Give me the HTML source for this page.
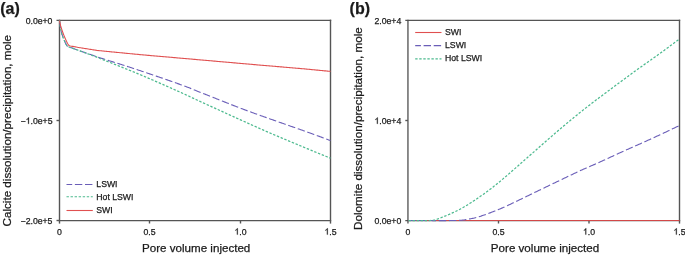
<!DOCTYPE html>
<html><head><meta charset="utf-8"><style>
html,body{margin:0;padding:0;background:#fff;}
body{width:685px;height:256px;overflow:hidden;}
#w{width:685px;height:256px;}
svg{display:block;will-change:transform;font-family:"Liberation Sans",sans-serif;fill:#1a1a1a;}
text{stroke:#1a1a1a;stroke-width:0.25px;}
</style></head><body>
<div id="w"><svg width="685" height="256" viewBox="0 0 685 256">
<line x1="56.5" y1="20.4" x2="331.2" y2="20.4" stroke="#555555" stroke-width="1.4"/>
<line x1="58.8" y1="220.65" x2="331.2" y2="220.65" stroke="#555555" stroke-width="1.4"/>
<line x1="59.5" y1="19.7" x2="59.5" y2="223.6" stroke="#555555" stroke-width="1.4"/>
<line x1="330.5" y1="19.7" x2="330.5" y2="223.6" stroke="#555555" stroke-width="1.4"/>
<line x1="56.5" y1="120.5" x2="59.5" y2="120.5" stroke="#555555" stroke-width="1.4"/>
<line x1="56.5" y1="220.5" x2="59.5" y2="220.5" stroke="#555555" stroke-width="1.4"/>
<line x1="149.5" y1="220.5" x2="149.5" y2="223.5" stroke="#555555" stroke-width="1.4"/>
<line x1="240.5" y1="220.5" x2="240.5" y2="223.5" stroke="#555555" stroke-width="1.4"/>
<line x1="405.3" y1="20.4" x2="680.2" y2="20.4" stroke="#555555" stroke-width="1.4"/>
<line x1="405.3" y1="220.65" x2="680.2" y2="220.65" stroke="#555555" stroke-width="1.4"/>
<line x1="407.95" y1="19.7" x2="407.95" y2="223.6" stroke="#4f4f4f" stroke-width="1.3"/>
<line x1="679.5" y1="19.7" x2="679.5" y2="223.6" stroke="#555555" stroke-width="1.4"/>
<line x1="405.3" y1="120.5" x2="407.95" y2="120.5" stroke="#555555" stroke-width="1.4"/>
<line x1="498.5" y1="220.5" x2="498.5" y2="223.5" stroke="#555555" stroke-width="1.4"/>
<line x1="589.0" y1="220.5" x2="589.0" y2="223.5" stroke="#555555" stroke-width="1.4"/>
<path d="M59.50,20.50 L59.63,21.58 L59.75,22.63 L59.87,23.69 L60.02,24.80 L60.20,26.00 L60.35,26.92 L60.52,27.89 L60.69,28.90 L60.89,29.92 L61.10,30.96 L61.34,31.99 L61.60,33.00 L61.90,34.02 L62.25,35.07 L62.62,36.13 L63.00,37.17 L63.38,38.18 L63.75,39.13 L64.10,40.00 L64.67,41.37 L65.22,42.58 L65.74,43.63 L66.20,44.50 L66.83,45.56 L67.50,46.20 L68.21,46.63 L70.00,47.30 L70.67,47.55 L71.42,47.83 L72.26,48.14 L73.17,48.47 L74.16,48.82 L75.21,49.20 L76.32,49.60 L77.50,50.02 L78.72,50.45 L80.00,50.90 L80.86,51.20 L81.79,51.52 L82.80,51.87 L83.86,52.24 L84.96,52.62 L86.09,53.00 L87.23,53.40 L88.38,53.79 L89.51,54.18 L90.62,54.55 L91.68,54.92 L92.70,55.27 L93.66,55.60 L94.53,55.90 L95.32,56.17 L96.00,56.40 L97.07,56.79 L96.69,56.71 L96.96,56.81 L100.00,57.80 L100.56,57.98 L101.16,58.17 L101.80,58.37 L102.47,58.59 L103.19,58.81 L103.93,59.05 L104.71,59.29 L105.52,59.55 L106.36,59.81 L107.23,60.09 L108.12,60.37 L109.04,60.66 L109.98,60.95 L110.95,61.25 L111.94,61.56 L112.94,61.88 L113.97,62.20 L115.01,62.53 L116.06,62.86 L117.13,63.20 L118.21,63.54 L119.30,63.89 L120.40,64.23 L121.51,64.59 L122.63,64.94 L123.75,65.30 L124.87,65.66 L125.99,66.02 L127.12,66.38 L128.24,66.74 L129.36,67.10 L130.48,67.46 L131.59,67.82 L132.69,68.18 L133.78,68.54 L134.87,68.89 L135.94,69.25 L137.00,69.60 L137.90,69.90 L138.81,70.20 L139.74,70.51 L140.68,70.83 L141.64,71.15 L142.61,71.48 L143.59,71.81 L144.58,72.14 L145.58,72.48 L146.59,72.82 L147.61,73.17 L148.64,73.51 L149.67,73.86 L150.70,74.22 L151.74,74.57 L152.78,74.93 L153.83,75.28 L154.87,75.64 L155.92,76.00 L156.96,76.36 L158.00,76.71 L159.04,77.07 L160.08,77.43 L161.11,77.78 L162.14,78.14 L163.16,78.49 L164.17,78.84 L165.17,79.19 L166.16,79.53 L167.15,79.87 L168.12,80.21 L169.08,80.55 L170.03,80.88 L170.96,81.20 L171.88,81.52 L172.78,81.84 L173.66,82.15 L174.53,82.46 L175.37,82.75 L176.20,83.05 L177.00,83.33 L177.79,83.61 L178.55,83.88 L179.29,84.14 L180.00,84.40 L181.43,84.91 L182.72,85.38 L183.89,85.81 L184.95,86.21 L185.92,86.57 L186.81,86.91 L187.63,87.22 L188.40,87.52 L189.13,87.81 L189.84,88.10 L190.54,88.38 L191.24,88.66 L191.95,88.96 L192.70,89.27 L193.50,89.59 L194.35,89.94 L195.28,90.32 L196.29,90.73 L197.41,91.17 L198.64,91.66 L200.00,92.20 L200.71,92.48 L201.45,92.77 L202.21,93.07 L202.99,93.38 L203.80,93.70 L204.63,94.03 L205.48,94.37 L206.35,94.72 L207.24,95.07 L208.14,95.43 L209.06,95.79 L209.99,96.17 L210.94,96.54 L211.90,96.93 L212.87,97.31 L213.85,97.71 L214.84,98.10 L215.84,98.50 L216.84,98.90 L217.85,99.30 L218.87,99.70 L219.88,100.11 L220.90,100.51 L221.92,100.92 L222.94,101.33 L223.96,101.73 L224.98,102.13 L225.99,102.53 L227.00,102.93 L228.01,103.33 L229.00,103.72 L229.99,104.11 L230.97,104.50 L231.94,104.88 L232.89,105.25 L233.84,105.62 L234.77,105.98 L235.68,106.34 L236.58,106.69 L237.47,107.03 L238.33,107.36 L239.18,107.68 L240.00,108.00 L241.11,108.42 L242.20,108.84 L243.26,109.23 L244.29,109.62 L245.30,110.00 L246.28,110.37 L247.25,110.73 L248.21,111.08 L249.14,111.43 L250.07,111.77 L250.98,112.10 L251.88,112.43 L252.78,112.75 L253.67,113.08 L254.56,113.40 L255.44,113.72 L256.33,114.03 L257.22,114.35 L258.12,114.67 L259.02,114.99 L259.93,115.32 L260.86,115.65 L261.79,115.98 L262.75,116.32 L263.72,116.66 L264.70,117.01 L265.71,117.37 L266.74,117.74 L267.80,118.12 L268.89,118.50 L270.00,118.90 L270.84,119.20 L271.71,119.51 L272.60,119.82 L273.50,120.14 L274.42,120.47 L275.36,120.80 L276.31,121.14 L277.28,121.48 L278.26,121.83 L279.25,122.18 L280.26,122.53 L281.27,122.88 L282.29,123.24 L283.31,123.60 L284.35,123.97 L285.38,124.33 L286.42,124.69 L287.47,125.06 L288.51,125.43 L289.55,125.79 L290.59,126.16 L291.63,126.52 L292.67,126.88 L293.70,127.24 L294.72,127.60 L295.74,127.96 L296.74,128.31 L297.74,128.66 L298.73,129.01 L299.70,129.35 L300.66,129.69 L301.61,130.02 L302.54,130.35 L303.45,130.67 L304.35,130.99 L305.22,131.30 L306.08,131.60 L306.91,131.90 L307.72,132.19 L308.51,132.47 L309.27,132.74 L310.00,133.00 L311.40,133.50 L312.71,133.98 L313.95,134.43 L315.12,134.85 L316.23,135.26 L317.28,135.65 L318.28,136.01 L319.23,136.37 L320.15,136.71 L321.04,137.04 L321.90,137.37 L322.74,137.68 L323.57,138.00 L324.39,138.31 L325.21,138.62 L326.04,138.93 L326.88,139.25 L327.74,139.57 L328.63,139.90 L329.54,140.25 L330.50,140.60" fill="none" stroke="#6a5eb8" stroke-width="1.1" stroke-dasharray="7.4 2.7"/>
<path d="M59.50,20.50 L59.63,21.58 L59.75,22.63 L59.87,23.69 L60.02,24.80 L60.20,26.00 L60.35,26.92 L60.52,27.89 L60.69,28.90 L60.89,29.92 L61.10,30.96 L61.34,31.99 L61.60,33.00 L61.90,34.02 L62.25,35.07 L62.62,36.13 L63.00,37.17 L63.38,38.18 L63.75,39.13 L64.10,40.00 L64.67,41.37 L65.22,42.58 L65.74,43.63 L66.20,44.50 L66.83,45.56 L67.50,46.20 L68.21,46.63 L70.00,47.30 L70.70,47.56 L71.52,47.86 L72.45,48.19 L73.46,48.56 L74.53,48.94 L75.64,49.33 L76.76,49.73 L77.88,50.13 L78.97,50.52 L80.00,50.90 L81.00,51.27 L82.00,51.63 L83.00,52.00 L84.00,52.36 L85.00,52.73 L86.00,53.10 L87.00,53.47 L88.00,53.85 L89.00,54.22 L90.00,54.60 L90.86,54.93 L91.52,55.17 L92.06,55.37 L92.56,55.56 L93.12,55.78 L93.84,56.05 L94.80,56.43 L96.08,56.94 L97.78,57.62 L100.00,58.50 L100.60,58.74 L101.23,58.99 L101.89,59.25 L102.57,59.53 L103.29,59.81 L104.03,60.10 L104.80,60.41 L105.59,60.72 L106.41,61.05 L107.25,61.38 L108.11,61.72 L108.99,62.07 L109.89,62.43 L110.80,62.79 L111.73,63.16 L112.68,63.53 L113.65,63.92 L114.62,64.31 L115.61,64.70 L116.61,65.10 L117.62,65.50 L118.63,65.90 L119.66,66.31 L120.69,66.72 L121.73,67.14 L122.77,67.56 L123.81,67.98 L124.86,68.40 L125.90,68.82 L126.95,69.24 L128.00,69.66 L129.04,70.09 L130.08,70.51 L131.11,70.93 L132.14,71.35 L133.16,71.76 L134.17,72.18 L135.17,72.59 L136.16,73.00 L137.14,73.41 L138.11,73.81 L139.06,74.21 L140.00,74.60 L140.94,74.99 L141.88,75.39 L142.84,75.80 L143.80,76.21 L144.77,76.62 L145.75,77.04 L146.73,77.46 L147.72,77.89 L148.72,78.31 L149.72,78.74 L150.72,79.18 L151.72,79.61 L152.73,80.05 L153.74,80.49 L154.75,80.93 L155.75,81.37 L156.76,81.80 L157.76,82.24 L158.76,82.68 L159.76,83.12 L160.76,83.56 L161.74,83.99 L162.73,84.43 L163.70,84.86 L164.67,85.28 L165.63,85.71 L166.58,86.13 L167.53,86.55 L168.46,86.96 L169.38,87.37 L170.29,87.77 L171.18,88.17 L172.07,88.56 L172.94,88.95 L173.79,89.33 L174.63,89.70 L175.45,90.07 L176.26,90.43 L177.04,90.78 L177.81,91.12 L178.56,91.46 L179.29,91.78 L180.00,92.10 L181.30,92.68 L182.49,93.22 L183.58,93.71 L184.58,94.17 L185.50,94.59 L186.36,94.99 L187.15,95.36 L187.90,95.71 L188.62,96.05 L189.32,96.38 L190.00,96.71 L190.68,97.03 L191.38,97.37 L192.10,97.71 L192.85,98.07 L193.64,98.44 L194.50,98.85 L195.42,99.28 L196.42,99.75 L197.51,100.25 L198.70,100.80 L200.00,101.40 L200.71,101.73 L201.45,102.06 L202.21,102.41 L202.99,102.77 L203.80,103.14 L204.63,103.52 L205.48,103.91 L206.35,104.31 L207.24,104.71 L208.14,105.12 L209.06,105.54 L209.99,105.97 L210.94,106.40 L211.90,106.84 L212.87,107.28 L213.85,107.73 L214.84,108.18 L215.84,108.63 L216.84,109.09 L217.85,109.55 L218.87,110.01 L219.88,110.48 L220.90,110.94 L221.92,111.40 L222.94,111.87 L223.96,112.33 L224.98,112.79 L225.99,113.25 L227.00,113.71 L228.01,114.17 L229.00,114.62 L229.99,115.07 L230.97,115.51 L231.94,115.95 L232.89,116.38 L233.84,116.81 L234.77,117.23 L235.68,117.65 L236.58,118.06 L237.47,118.45 L238.33,118.85 L239.18,119.23 L240.00,119.60 L241.08,120.09 L242.13,120.56 L243.16,121.03 L244.16,121.48 L245.14,121.93 L246.10,122.36 L247.04,122.79 L247.97,123.21 L248.88,123.62 L249.78,124.03 L250.66,124.43 L251.54,124.83 L252.41,125.22 L253.28,125.61 L254.14,126.00 L255.00,126.39 L255.86,126.77 L256.72,127.16 L257.59,127.55 L258.46,127.94 L259.34,128.33 L260.22,128.72 L261.12,129.12 L262.03,129.52 L262.96,129.93 L263.90,130.35 L264.86,130.77 L265.84,131.20 L266.84,131.63 L267.87,132.08 L268.92,132.53 L270.00,133.00 L270.82,133.36 L271.67,133.72 L272.53,134.09 L273.41,134.47 L274.31,134.85 L275.23,135.24 L276.16,135.63 L277.10,136.03 L278.06,136.44 L279.02,136.85 L280.00,137.26 L280.98,137.68 L281.98,138.10 L282.98,138.52 L283.99,138.94 L285.00,139.37 L286.01,139.79 L287.03,140.22 L288.05,140.65 L289.07,141.07 L290.09,141.50 L291.10,141.92 L292.11,142.35 L293.12,142.77 L294.13,143.19 L295.12,143.60 L296.11,144.02 L297.09,144.43 L298.06,144.83 L299.02,145.23 L299.97,145.63 L300.91,146.01 L301.83,146.40 L302.73,146.77 L303.62,147.14 L304.49,147.51 L305.34,147.86 L306.17,148.21 L306.99,148.55 L307.78,148.87 L308.54,149.19 L309.28,149.50 L310.00,149.80 L311.34,150.36 L312.60,150.88 L313.79,151.37 L314.91,151.84 L315.98,152.28 L317.00,152.70 L317.96,153.09 L318.89,153.47 L319.78,153.84 L320.64,154.19 L321.47,154.53 L322.28,154.86 L323.08,155.18 L323.87,155.50 L324.65,155.82 L325.44,156.14 L326.23,156.46 L327.04,156.79 L327.86,157.12 L328.71,157.47 L329.59,157.83 L330.50,158.20" fill="none" stroke="#4dba8f" stroke-width="1.25" stroke-dasharray="2.4 1.65"/>
<path d="M59.50,20.50 L59.72,21.58 L59.93,22.63 L60.14,23.69 L60.39,24.80 L60.70,26.00 L60.97,26.92 L61.26,27.89 L61.58,28.90 L61.91,29.92 L62.27,30.96 L62.63,31.99 L63.00,33.00 L63.39,34.03 L63.81,35.08 L64.25,36.15 L64.69,37.20 L65.12,38.21 L65.53,39.15 L65.90,40.00 L66.49,41.30 L67.03,42.41 L67.50,43.35 L67.90,44.10 L68.37,44.91 L68.80,45.30 L69.49,45.69 L70.50,46.00 L71.44,46.19 L72.58,46.37 L74.00,46.60 L74.74,46.74 L75.44,46.88 L76.22,47.03 L77.17,47.21 L78.39,47.43 L80.00,47.70 L80.75,47.82 L81.60,47.96 L82.55,48.11 L83.58,48.27 L84.66,48.44 L85.79,48.62 L86.95,48.80 L88.12,48.99 L89.29,49.17 L90.44,49.35 L91.55,49.52 L92.61,49.68 L93.60,49.84 L94.51,49.97 L95.31,50.10 L96.00,50.20 L97.00,50.39 L96.50,50.36 L96.75,50.38 L100.00,50.70 L100.57,50.76 L101.19,50.82 L101.84,50.88 L102.54,50.95 L103.28,51.03 L104.05,51.10 L104.86,51.19 L105.70,51.27 L106.57,51.36 L107.47,51.45 L108.40,51.54 L109.35,51.63 L110.33,51.73 L111.34,51.83 L112.36,51.93 L113.41,52.03 L114.47,52.14 L115.55,52.25 L116.64,52.35 L117.75,52.46 L118.87,52.57 L120.00,52.68 L121.13,52.79 L122.27,52.91 L123.42,53.02 L124.57,53.13 L125.72,53.24 L126.87,53.35 L128.01,53.46 L129.16,53.57 L130.29,53.68 L131.42,53.79 L132.55,53.90 L133.66,54.00 L134.75,54.11 L135.84,54.21 L136.91,54.31 L137.96,54.41 L138.99,54.51 L140.00,54.60 L141.00,54.69 L142.00,54.78 L143.00,54.88 L144.00,54.97 L145.00,55.06 L146.00,55.15 L147.00,55.24 L148.00,55.33 L149.00,55.41 L150.00,55.50 L151.00,55.59 L152.00,55.68 L153.00,55.77 L154.00,55.85 L155.00,55.94 L156.00,56.03 L157.00,56.12 L158.00,56.20 L159.00,56.29 L160.00,56.38 L161.00,56.46 L162.00,56.55 L163.00,56.63 L164.00,56.72 L165.00,56.81 L166.00,56.89 L167.00,56.98 L168.00,57.06 L169.00,57.15 L170.00,57.23 L171.00,57.32 L172.00,57.41 L173.00,57.49 L174.00,57.58 L175.00,57.67 L176.00,57.75 L177.00,57.84 L178.00,57.93 L179.00,58.01 L180.00,58.10 L181.00,58.19 L182.00,58.27 L183.00,58.36 L184.00,58.45 L185.00,58.54 L186.00,58.62 L187.00,58.71 L188.00,58.80 L189.00,58.89 L190.00,58.98 L191.00,59.06 L192.00,59.15 L193.00,59.24 L194.00,59.33 L195.00,59.41 L196.00,59.50 L197.00,59.59 L198.00,59.68 L199.00,59.76 L200.00,59.85 L201.00,59.94 L202.00,60.02 L203.00,60.11 L204.00,60.20 L205.00,60.29 L206.00,60.38 L207.00,60.46 L208.00,60.55 L209.00,60.64 L210.00,60.73 L211.00,60.81 L212.00,60.90 L213.00,60.99 L214.00,61.08 L215.00,61.16 L216.00,61.25 L217.00,61.34 L218.00,61.43 L219.00,61.51 L220.00,61.60 L221.00,61.69 L222.00,61.78 L223.00,61.86 L224.00,61.95 L225.00,62.04 L226.00,62.13 L227.00,62.21 L228.00,62.30 L229.00,62.39 L230.00,62.48 L231.00,62.57 L232.00,62.65 L233.00,62.74 L234.00,62.83 L235.00,62.92 L236.00,63.00 L237.00,63.09 L238.00,63.18 L239.00,63.27 L240.00,63.36 L241.00,63.44 L242.00,63.53 L243.00,63.62 L244.00,63.71 L245.00,63.79 L246.00,63.88 L247.00,63.97 L248.00,64.06 L249.00,64.14 L250.00,64.23 L251.00,64.32 L252.00,64.41 L253.00,64.49 L254.00,64.58 L255.00,64.67 L256.00,64.75 L257.00,64.84 L258.00,64.93 L259.00,65.01 L260.00,65.10 L261.00,65.19 L262.01,65.27 L263.02,65.36 L264.04,65.45 L265.06,65.53 L266.09,65.62 L267.12,65.71 L268.15,65.79 L269.19,65.88 L270.22,65.97 L271.26,66.06 L272.30,66.14 L273.34,66.23 L274.38,66.32 L275.42,66.40 L276.46,66.49 L277.49,66.58 L278.53,66.66 L279.56,66.75 L280.59,66.84 L281.62,66.92 L282.65,67.01 L283.67,67.10 L284.68,67.18 L285.70,67.27 L286.70,67.35 L287.70,67.44 L288.70,67.52 L289.69,67.60 L290.67,67.69 L291.64,67.77 L292.61,67.85 L293.57,67.94 L294.51,68.02 L295.45,68.10 L296.38,68.18 L297.30,68.26 L298.21,68.34 L299.11,68.42 L300.00,68.50 L301.16,68.60 L302.31,68.71 L303.43,68.81 L304.54,68.91 L305.63,69.01 L306.71,69.11 L307.77,69.21 L308.81,69.31 L309.85,69.41 L310.87,69.50 L311.88,69.60 L312.88,69.70 L313.88,69.79 L314.86,69.89 L315.84,69.98 L316.82,70.08 L317.79,70.17 L318.76,70.26 L319.72,70.36 L320.69,70.45 L321.65,70.55 L322.61,70.64 L323.58,70.73 L324.55,70.83 L325.53,70.92 L326.51,71.02 L327.49,71.11 L328.49,71.21 L329.49,71.30 L330.50,71.40" fill="none" stroke="#e05050" stroke-width="1.1"/>
<line x1="408.2" y1="220.45" x2="679.5" y2="220.45" stroke="#d24848" stroke-width="1.1"/>
<path d="M408.50,220.50 L409.52,220.50 L410.55,220.50 L411.60,220.50 L412.66,220.50 L413.73,220.51 L414.81,220.51 L415.90,220.51 L417.01,220.52 L418.11,220.52 L419.23,220.52 L420.35,220.53 L421.47,220.53 L422.60,220.54 L423.73,220.54 L424.86,220.55 L426.00,220.55 L427.13,220.56 L428.26,220.56 L429.38,220.57 L430.51,220.57 L431.63,220.57 L432.74,220.58 L433.84,220.58 L434.94,220.58 L436.03,220.59 L437.11,220.59 L438.18,220.59 L439.23,220.59 L440.28,220.60 L441.30,220.60 L442.32,220.60 L443.31,220.60 L444.29,220.59 L445.26,220.59 L446.20,220.59 L447.12,220.59 L448.02,220.58 L448.90,220.58 L449.76,220.57 L450.59,220.56 L451.39,220.56 L452.17,220.55 L452.92,220.54 L453.64,220.53 L454.34,220.51 L455.00,220.50 L457.10,220.45 L458.86,220.39 L460.31,220.32 L461.50,220.25 L462.49,220.16 L463.30,220.07 L463.99,219.97 L464.60,219.87 L465.17,219.75 L465.75,219.63 L466.39,219.50 L467.12,219.35 L468.00,219.20 L469.01,219.03 L469.97,218.87 L470.88,218.72 L471.78,218.55 L472.67,218.38 L473.56,218.19 L474.48,217.98 L475.44,217.74 L476.46,217.47 L477.55,217.16 L478.72,216.80 L480.00,216.40 L480.78,216.15 L481.59,215.88 L482.44,215.59 L483.31,215.29 L484.21,214.98 L485.13,214.65 L486.07,214.31 L487.04,213.97 L488.01,213.61 L489.00,213.24 L490.00,212.87 L491.01,212.49 L492.02,212.10 L493.04,211.71 L494.05,211.31 L495.07,210.91 L496.07,210.51 L497.07,210.11 L498.06,209.70 L499.04,209.30 L500.00,208.90 L500.91,208.51 L501.82,208.12 L502.73,207.73 L503.64,207.32 L504.55,206.92 L505.45,206.50 L506.36,206.09 L507.27,205.67 L508.18,205.24 L509.09,204.82 L510.00,204.39 L510.91,203.96 L511.82,203.52 L512.73,203.09 L513.64,202.65 L514.55,202.21 L515.45,201.78 L516.36,201.34 L517.27,200.90 L518.18,200.47 L519.09,200.03 L520.00,199.60 L520.91,199.17 L521.82,198.73 L522.73,198.30 L523.64,197.86 L524.55,197.42 L525.45,196.98 L526.36,196.54 L527.27,196.10 L528.18,195.66 L529.09,195.21 L530.00,194.77 L530.91,194.32 L531.82,193.88 L532.73,193.44 L533.64,192.99 L534.55,192.55 L535.45,192.11 L536.36,191.66 L537.27,191.22 L538.18,190.78 L539.09,190.34 L540.00,189.90 L540.91,189.46 L541.82,189.02 L542.73,188.59 L543.64,188.15 L544.55,187.71 L545.45,187.27 L546.36,186.83 L547.27,186.40 L548.18,185.96 L549.09,185.52 L550.00,185.09 L550.91,184.65 L551.82,184.22 L552.73,183.78 L553.64,183.34 L554.55,182.91 L555.45,182.47 L556.36,182.04 L557.27,181.60 L558.18,181.17 L559.09,180.73 L560.00,180.30 L560.91,179.87 L561.82,179.43 L562.73,178.99 L563.64,178.56 L564.55,178.12 L565.45,177.68 L566.36,177.25 L567.27,176.81 L568.18,176.37 L569.09,175.94 L570.00,175.50 L570.91,175.07 L571.82,174.63 L572.73,174.20 L573.64,173.77 L574.55,173.34 L575.45,172.91 L576.36,172.48 L577.27,172.06 L578.18,171.64 L579.09,171.22 L580.00,170.80 L580.95,170.37 L581.89,169.94 L582.83,169.52 L583.77,169.11 L584.70,168.70 L585.63,168.29 L586.56,167.88 L587.48,167.48 L588.41,167.07 L589.35,166.67 L590.28,166.27 L591.22,165.86 L592.16,165.45 L593.11,165.04 L594.07,164.63 L595.03,164.20 L596.00,163.78 L596.99,163.35 L597.98,162.91 L598.98,162.46 L600.00,162.00 L600.87,161.61 L601.76,161.20 L602.66,160.79 L603.58,160.37 L604.50,159.95 L605.44,159.51 L606.39,159.08 L607.35,158.63 L608.31,158.19 L609.27,157.74 L610.24,157.29 L611.20,156.84 L612.17,156.39 L613.13,155.95 L614.09,155.50 L615.04,155.06 L615.98,154.63 L616.91,154.19 L617.83,153.77 L618.74,153.35 L619.63,152.94 L620.50,152.54 L621.35,152.15 L622.19,151.77 L623.00,151.40 L624.09,150.91 L625.14,150.44 L626.15,149.99 L627.12,149.56 L628.07,149.14 L629.00,148.73 L629.91,148.33 L630.80,147.94 L631.69,147.56 L632.57,147.17 L633.45,146.79 L634.33,146.40 L635.23,146.01 L636.14,145.61 L637.06,145.21 L638.01,144.79 L638.99,144.35 L640.00,143.90 L640.89,143.50 L641.79,143.10 L642.70,142.69 L643.63,142.27 L644.57,141.85 L645.51,141.42 L646.46,140.99 L647.42,140.56 L648.39,140.12 L649.36,139.68 L650.33,139.24 L651.31,138.80 L652.28,138.35 L653.26,137.91 L654.23,137.46 L655.21,137.02 L656.18,136.57 L657.14,136.12 L658.10,135.68 L659.06,135.24 L660.00,134.80 L660.94,134.36 L661.88,133.92 L662.81,133.48 L663.75,133.04 L664.68,132.60 L665.61,132.16 L666.54,131.71 L667.47,131.27 L668.39,130.83 L669.32,130.38 L670.24,129.94 L671.17,129.50 L672.09,129.05 L673.02,128.61 L673.94,128.16 L674.87,127.72 L675.79,127.27 L676.72,126.83 L677.64,126.39 L678.57,125.94 L679.50,125.50" fill="none" stroke="#6a5eb8" stroke-width="1.1" stroke-dasharray="7.4 2.7"/>
<path d="M408.50,220.50 L409.54,220.50 L410.59,220.51 L411.67,220.52 L412.76,220.54 L413.87,220.55 L414.98,220.57 L416.09,220.59 L417.21,220.61 L418.32,220.63 L419.42,220.64 L420.51,220.66 L421.59,220.67 L422.65,220.68 L423.69,220.68 L424.70,220.67 L425.68,220.67 L426.62,220.65 L427.53,220.63 L428.40,220.59 L429.22,220.55 L430.00,220.50 L431.42,220.39 L432.58,220.28 L433.53,220.16 L434.35,220.02 L435.09,219.86 L435.83,219.64 L436.63,219.37 L437.54,219.03 L438.65,218.61 L440.00,218.10 L440.74,217.82 L441.51,217.52 L442.33,217.20 L443.19,216.86 L444.07,216.51 L444.99,216.14 L445.93,215.75 L446.89,215.35 L447.87,214.93 L448.87,214.51 L449.88,214.07 L450.90,213.61 L451.93,213.15 L452.96,212.68 L453.99,212.20 L455.02,211.72 L456.04,211.22 L457.06,210.72 L458.05,210.22 L459.04,209.71 L460.00,209.20 L460.87,208.73 L461.74,208.25 L462.61,207.76 L463.48,207.26 L464.35,206.76 L465.22,206.24 L466.09,205.72 L466.96,205.19 L467.83,204.66 L468.70,204.12 L469.57,203.57 L470.43,203.02 L471.30,202.46 L472.17,201.89 L473.04,201.32 L473.91,200.75 L474.78,200.17 L475.65,199.58 L476.52,198.99 L477.39,198.40 L478.26,197.80 L479.13,197.20 L480.00,196.60 L480.79,196.05 L481.57,195.50 L482.34,194.97 L483.09,194.43 L483.84,193.90 L484.58,193.37 L485.32,192.84 L486.05,192.31 L486.79,191.77 L487.52,191.23 L488.26,190.68 L489.00,190.13 L489.75,189.56 L490.51,188.98 L491.28,188.39 L492.06,187.78 L492.86,187.16 L493.67,186.52 L494.51,185.86 L495.36,185.18 L496.24,184.48 L497.14,183.75 L498.06,182.99 L499.02,182.21 L500.00,181.40 L500.65,180.86 L501.32,180.30 L502.01,179.73 L502.71,179.13 L503.43,178.52 L504.16,177.90 L504.91,177.26 L505.67,176.61 L506.45,175.95 L507.23,175.27 L508.02,174.59 L508.82,173.89 L509.63,173.19 L510.44,172.48 L511.27,171.77 L512.09,171.05 L512.92,170.32 L513.75,169.60 L514.58,168.87 L515.42,168.13 L516.25,167.40 L517.08,166.67 L517.91,165.94 L518.73,165.22 L519.56,164.49 L520.37,163.77 L521.18,163.06 L521.98,162.35 L522.77,161.66 L523.55,160.97 L524.33,160.29 L525.09,159.62 L525.84,158.96 L526.57,158.31 L527.29,157.68 L527.99,157.06 L528.68,156.46 L529.35,155.87 L530.00,155.30 L530.95,154.47 L531.87,153.67 L532.76,152.88 L533.63,152.12 L534.47,151.37 L535.30,150.65 L536.10,149.93 L536.89,149.24 L537.66,148.56 L538.42,147.88 L539.17,147.22 L539.90,146.57 L540.62,145.93 L541.34,145.30 L542.05,144.67 L542.76,144.04 L543.47,143.41 L544.17,142.79 L544.88,142.17 L545.59,141.55 L546.30,140.92 L547.02,140.29 L547.75,139.65 L548.49,139.01 L549.24,138.36 L550.00,137.70 L550.77,137.03 L551.54,136.37 L552.31,135.71 L553.08,135.04 L553.85,134.38 L554.62,133.72 L555.38,133.05 L556.15,132.39 L556.92,131.73 L557.69,131.07 L558.46,130.41 L559.23,129.76 L560.00,129.10 L560.77,128.44 L561.54,127.79 L562.31,127.14 L563.08,126.49 L563.85,125.84 L564.62,125.19 L565.38,124.54 L566.15,123.90 L566.92,123.25 L567.69,122.61 L568.46,121.97 L569.23,121.34 L570.00,120.70 L570.79,120.05 L571.57,119.41 L572.34,118.77 L573.09,118.15 L573.84,117.54 L574.58,116.93 L575.32,116.33 L576.05,115.73 L576.79,115.14 L577.52,114.54 L578.26,113.94 L579.00,113.34 L579.75,112.74 L580.51,112.13 L581.28,111.52 L582.06,110.90 L582.86,110.27 L583.67,109.62 L584.51,108.97 L585.36,108.30 L586.24,107.62 L587.14,106.92 L588.06,106.20 L589.02,105.46 L590.00,104.70 L590.69,104.17 L591.39,103.63 L592.12,103.07 L592.87,102.51 L593.63,101.93 L594.41,101.33 L595.20,100.73 L596.01,100.12 L596.82,99.50 L597.66,98.88 L598.50,98.24 L599.34,97.60 L600.20,96.96 L601.07,96.31 L601.93,95.66 L602.81,95.00 L603.68,94.35 L604.56,93.69 L605.44,93.03 L606.32,92.38 L607.19,91.72 L608.07,91.07 L608.93,90.43 L609.80,89.78 L610.66,89.14 L611.50,88.51 L612.34,87.89 L613.18,87.27 L613.99,86.66 L614.80,86.06 L615.59,85.47 L616.37,84.89 L617.13,84.33 L617.88,83.77 L618.61,83.23 L619.31,82.71 L620.00,82.20 L621.02,81.44 L622.02,80.71 L622.98,79.99 L623.91,79.30 L624.82,78.64 L625.70,77.99 L626.57,77.35 L627.41,76.73 L628.23,76.13 L629.04,75.54 L629.84,74.95 L630.62,74.38 L631.40,73.82 L632.17,73.25 L632.94,72.70 L633.70,72.14 L634.47,71.59 L635.23,71.04 L636.01,70.48 L636.78,69.92 L637.57,69.35 L638.37,68.78 L639.17,68.19 L640.00,67.60 L640.83,67.00 L641.67,66.40 L642.50,65.81 L643.34,65.21 L644.18,64.62 L645.01,64.03 L645.85,63.44 L646.69,62.84 L647.52,62.25 L648.36,61.67 L649.20,61.08 L650.03,60.49 L650.87,59.90 L651.70,59.31 L652.54,58.72 L653.37,58.13 L654.20,57.54 L655.04,56.95 L655.87,56.36 L656.70,55.77 L657.52,55.18 L658.35,54.59 L659.18,54.00 L660.00,53.40 L660.82,52.80 L661.64,52.21 L662.46,51.61 L663.28,51.01 L664.10,50.41 L664.91,49.81 L665.72,49.21 L666.54,48.61 L667.35,48.01 L668.16,47.41 L668.97,46.81 L669.78,46.21 L670.59,45.61 L671.40,45.01 L672.21,44.41 L673.02,43.81 L673.83,43.21 L674.64,42.60 L675.45,42.00 L676.26,41.40 L677.07,40.80 L677.88,40.20 L678.69,39.60 L679.50,39.00" fill="none" stroke="#4dba8f" stroke-width="1.25" stroke-dasharray="2.4 1.65"/>
<line x1="66.5" y1="184.5" x2="92.8" y2="184.5" stroke="#6a5eb8" stroke-width="1.1" stroke-dasharray="7.4 2.7" stroke-dashoffset="1.7"/>
<text x="96.3" y="187.3" font-size="8.7">LSWI</text>
<line x1="66.5" y1="196.7" x2="92.8" y2="196.7" stroke="#4dba8f" stroke-width="1.15" stroke-dasharray="2.4 1.65"/>
<text x="96.3" y="200.3" font-size="8.7">Hot LSWI</text>
<line x1="66.5" y1="210.5" x2="92.8" y2="210.5" stroke="#e05050" stroke-width="1.1"/>
<text x="96.3" y="213.3" font-size="8.7">SWI</text>
<line x1="415.2" y1="32.5" x2="441.5" y2="32.5" stroke="#e05050" stroke-width="1.1"/>
<text x="445.0" y="35.3" font-size="8.7">SWI</text>
<line x1="415.2" y1="45.6" x2="441.5" y2="45.6" stroke="#6a5eb8" stroke-width="1.1" stroke-dasharray="7.4 2.7" stroke-dashoffset="1.7"/>
<text x="445.0" y="48.3" font-size="8.7">LSWI</text>
<line x1="415.2" y1="58.8" x2="441.5" y2="58.8" stroke="#4dba8f" stroke-width="1.15" stroke-dasharray="2.4 1.65"/>
<text x="445.0" y="61.3" font-size="8.7">Hot LSWI</text>
<text x="25.65" y="23.80" font-size="8.7">0.0e+0</text>
<text x="20.57" y="123.80" font-size="8.7">&#8722;</text>
<path transform="translate(25.65,123.80) scale(0.004248,-0.004248)" d="M763 0H583V1147Q518 1085 412.5 1023T223 930V1104Q374 1175 487 1276T647 1472H763V0Z" fill="#1a1a1a" stroke="#1a1a1a" stroke-width="0.25" vector-effect="non-scaling-stroke"/>
<text x="30.49" y="123.80" font-size="8.7">.0e+5</text>
<text x="20.57" y="223.80" font-size="8.7">&#8722;2.0e+5</text>
<text x="374.45" y="23.80" font-size="8.7">2.0e+4</text>
<path transform="translate(374.45,123.80) scale(0.004248,-0.004248)" d="M763 0H583V1147Q518 1085 412.5 1023T223 930V1104Q374 1175 487 1276T647 1472H763V0Z" fill="#1a1a1a" stroke="#1a1a1a" stroke-width="0.25" vector-effect="non-scaling-stroke"/>
<text x="379.29" y="123.80" font-size="8.7">.0e+4</text>
<text x="374.45" y="223.80" font-size="8.7">0.0e+0</text>
<text x="57.08" y="234.60" font-size="8.7">0</text>
<text x="405.53" y="234.60" font-size="8.7">0</text>
<text x="143.45" y="234.60" font-size="8.7">0.5</text>
<text x="492.45" y="234.60" font-size="8.7">0.5</text>
<path transform="translate(234.45,234.60) scale(0.004248,-0.004248)" d="M763 0H583V1147Q518 1085 412.5 1023T223 930V1104Q374 1175 487 1276T647 1472H763V0Z" fill="#1a1a1a" stroke="#1a1a1a" stroke-width="0.25" vector-effect="non-scaling-stroke"/>
<text x="239.29" y="234.60" font-size="8.7">.0</text>
<path transform="translate(582.95,234.60) scale(0.004248,-0.004248)" d="M763 0H583V1147Q518 1085 412.5 1023T223 930V1104Q374 1175 487 1276T647 1472H763V0Z" fill="#1a1a1a" stroke="#1a1a1a" stroke-width="0.25" vector-effect="non-scaling-stroke"/>
<text x="587.79" y="234.60" font-size="8.7">.0</text>
<path transform="translate(324.45,234.60) scale(0.004248,-0.004248)" d="M763 0H583V1147Q518 1085 412.5 1023T223 930V1104Q374 1175 487 1276T647 1472H763V0Z" fill="#1a1a1a" stroke="#1a1a1a" stroke-width="0.25" vector-effect="non-scaling-stroke"/>
<text x="329.29" y="234.60" font-size="8.7">.5</text>
<path transform="translate(673.45,234.60) scale(0.004248,-0.004248)" d="M763 0H583V1147Q518 1085 412.5 1023T223 930V1104Q374 1175 487 1276T647 1472H763V0Z" fill="#1a1a1a" stroke="#1a1a1a" stroke-width="0.25" vector-effect="non-scaling-stroke"/>
<text x="678.29" y="234.60" font-size="8.7">.5</text>
<text x="196.2" y="251.7" font-size="11.6" text-anchor="middle">Pore volume injected</text>
<text x="545" y="251.7" font-size="11.6" text-anchor="middle">Pore volume injected</text>
<text transform="translate(11.3,130.7) rotate(-90)" font-size="11.65" text-anchor="middle">Calcite dissolution/precipitation, mole</text>
<text transform="translate(361.9,128.6) rotate(-90)" font-size="11.7" text-anchor="middle">Dolomite dissolution/precipitation, mole</text>
<text x="0.2" y="13.9" font-size="16" font-weight="bold">(a)</text>
<text x="349.6" y="14" font-size="16" font-weight="bold">(b)</text>
</svg></div>
</body></html>
